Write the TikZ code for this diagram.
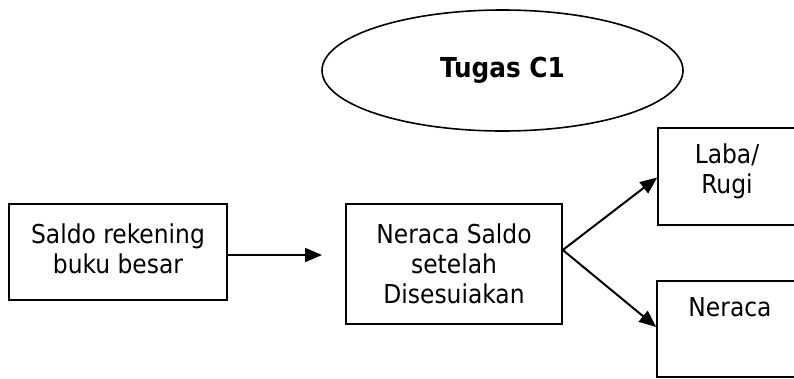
\documentclass[tikz,border=0pt]{standalone}
\usepackage{fontspec}
\setmainfont{DejaVu Sans Condensed}
\usetikzlibrary{arrows.meta,shapes.geometric}
\begin{document}
\begin{tikzpicture}[x=1pt,y=-1pt,
  box/.style={draw,line width=1.6pt,rectangle,inner sep=0pt},
  lbl/.style={font=\fontsize{26}{30}\selectfont,align=center,inner sep=0pt},
  flow/.style={line width=2pt,-{Triangle[length=17pt,width=14pt]}}]
\useasboundingbox (0,0) rectangle (794,378);
\clip (0,0) rectangle (794,378);

% title ellipse
\node[draw,line width=1.6pt,ellipse,minimum width=361pt,minimum height=121pt,inner sep=0pt,
  font=\fontsize{27.5}{32}\selectfont\bfseries] (title) at (502.5,70.5) {Tugas C1};

% boxes
\node[box,minimum width=218pt,minimum height=96pt] (saldo) at (118,252) {};
\node[box,minimum width=216pt,minimum height=120pt] (nsd) at (454,264) {};
\node[box,minimum width=144pt,minimum height=97pt] (laba) at (730,176.5) {};
\node[box,minimum width=144pt,minimum height=96pt] (neraca) at (729,329) {};

% box texts
\node[lbl] (tsaldo) at (118,249) {Saldo rekening\\buku besar};
\node[lbl] (tnsd) at (454,264) {Neraca Saldo\\setelah\\Disesuiakan};
\node[lbl] (tlaba) at (727,171) {Laba/\\Rugi};
\node[lbl] (tneraca) at (730,307) {Neraca};

% connectors
\coordinate (a1end) at (322,255);
\draw[flow] ([yshift=-3pt]saldo.east) -- (a1end);
\draw[flow] ([yshift=14pt]nsd.east) -- ([yshift=-1pt]laba.west);
\draw[flow] ([yshift=14pt]nsd.east) -- ([yshift=2pt]neraca.west);
\end{tikzpicture}
\end{document}
